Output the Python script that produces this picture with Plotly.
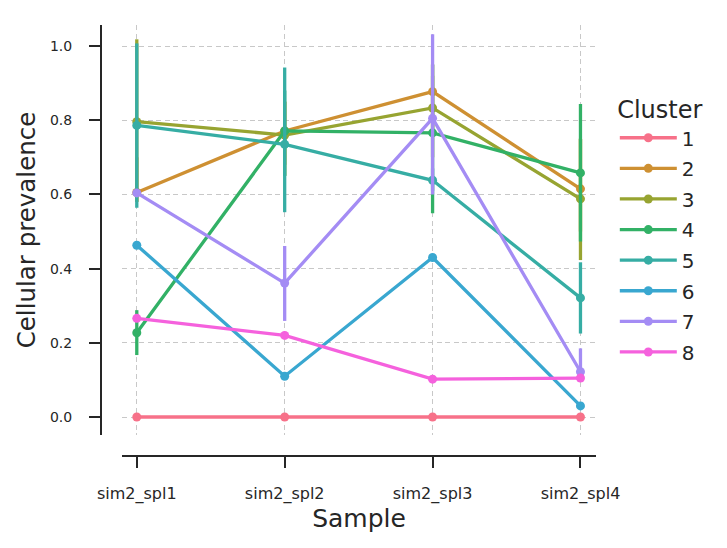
import plotly.graph_objects as go

samples = ["sim2_spl1", "sim2_spl2", "sim2_spl3", "sim2_spl4"]
clusters = ["1", "2", "3", "4", "5", "6", "7", "8"]
colors = ["#f77189", "#ce9032", "#97a431", "#32b166", "#36ada4", "#39a7d0", "#a48cf4", "#f561dd"]

# mean cellular prevalence per cluster per sample
values = {
    "1": [0.0, 0.0, 0.0, 0.0],
    "2": [0.605, 0.771, 0.877, 0.615],
    "3": [0.796, 0.760, 0.833, 0.588],
    "4": [0.227, 0.771, 0.766, 0.658],
    "5": [0.786, 0.735, 0.638, 0.321],
    "6": [0.463, 0.110, 0.430, 0.030],
    "7": [0.604, 0.361, 0.805, 0.122],
    "8": [0.266, 0.220, 0.102, 0.105],
}
# upper / lower confidence bounds
upper = {
    "1": [0.0, 0.0, 0.0, 0.0],
    "2": [0.70, 0.85, 0.95, 0.75],
    "3": [1.018, 0.85, 0.92, 0.75],
    "4": [0.288, 0.88, 0.95, 0.844],
    "5": [1.007, 0.942, 0.67, 0.417],
    "6": [0.463, 0.110, 0.430, 0.030],
    "7": [0.604, 0.461, 1.032, 0.185],
    "8": [0.266, 0.220, 0.102, 0.105],
}
lower = {
    "1": [0.0, 0.0, 0.0, 0.0],
    "2": [0.58, 0.68, 0.78, 0.50],
    "3": [0.58, 0.65, 0.70, 0.423],
    "4": [0.167, 0.65, 0.549, 0.473],
    "5": [0.564, 0.552, 0.61, 0.225],
    "6": [0.463, 0.110, 0.430, 0.030],
    "7": [0.604, 0.259, 0.600, 0.095],
    "8": [0.266, 0.220, 0.102, 0.105],
}

FONT = "DejaVu Sans"
TXT = "#262626"

fig = go.Figure()
for c, col in zip(clusters, colors):
    v = values[c]
    up = [u - m for u, m in zip(upper[c], v)]
    dn = [m - l for m, l in zip(v, lower[c])]
    fig.add_trace(go.Scatter(
        x=samples, y=v, name=c, legendgroup=c, mode="lines+markers",
        line=dict(color=col, width=3.3),
        marker=dict(color=col, size=9),
        error_y=dict(type="data", symmetric=False, array=up, arrayminus=dn,
                     color=col, thickness=3.3, width=0),
    ))

# invisible trace so the offset (despined) axes get drawn
fig.add_trace(go.Scatter(x=[None], y=[None], xaxis="x2", yaxis="y2",
                         showlegend=False, hoverinfo="skip"))

W, H = 727, 548
ml, mr, mt, mb = 101, 131, 25, 92
pw, ph = W - ml - mr, H - mt - mb
xdom = [21 / pw, 1]
ydom = [21 / ph, 1]
xr = [-0.1, 3.105]
yr = [-0.0485, 1.0566]
yt = [0.0, 0.2, 0.4, 0.6, 0.8, 1.0]
GRIDDASH = "5px,3.5px"

fig.update_layout(
    width=W, height=H,
    margin=dict(l=ml, r=mr, t=mt, b=mb),
    plot_bgcolor="white", paper_bgcolor="white",
    font=dict(family=FONT, color=TXT),
    xaxis=dict(domain=xdom, range=xr, type="category", showline=False, zeroline=False,
               showgrid=True, gridcolor="#c8c8c8", gridwidth=1.4, griddash=GRIDDASH,
               showticklabels=False, ticks=""),
    yaxis=dict(domain=ydom, range=yr, showline=False, zeroline=False,
               showgrid=True, gridcolor="#c8c8c8", gridwidth=1.4, griddash=GRIDDASH,
               tickvals=yt, showticklabels=False, ticks=""),
    xaxis2=dict(overlaying="x", anchor="free", position=0, domain=xdom, range=xr,
                type="linear", tickvals=[0, 1, 2, 3], ticktext=samples,
                showline=True, linecolor=TXT, linewidth=2, ticks="outside",
                ticklen=11, tickwidth=1.6, tickcolor=TXT, showgrid=False, zeroline=False,
                ticklabelstandoff=12,
                tickfont=dict(size=16, family=FONT, color=TXT),
                title=dict(text="Sample", font=dict(size=25, family=FONT, color=TXT), standoff=4)),
    yaxis2=dict(overlaying="y", anchor="free", position=0, domain=ydom, range=yr,
                tickvals=yt, ticktext=["0.0", "0.2", "0.4", "0.6", "0.8", "1.0"],
                showline=True, linecolor=TXT, linewidth=2, ticks="outside",
                ticklen=11, tickwidth=1.6, tickcolor=TXT, showgrid=False, zeroline=False,
                ticklabelstandoff=14,
                tickfont=dict(size=14, family=FONT, color=TXT),
                title=dict(text="Cellular prevalence", font=dict(size=24.5, family=FONT, color=TXT), standoff=6)),
    legend=dict(x=1.038, y=0.856, xanchor="left", yanchor="top",
                title=dict(text="Cluster", side="top center",
                           font=dict(size=24, family=FONT, color=TXT)),
                font=dict(size=20, family=FONT, color=TXT), tracegroupgap=1.6,
                itemwidth=57, bgcolor="rgba(0,0,0,0)"),
    showlegend=True,
)

fig.write_html("out.html")
